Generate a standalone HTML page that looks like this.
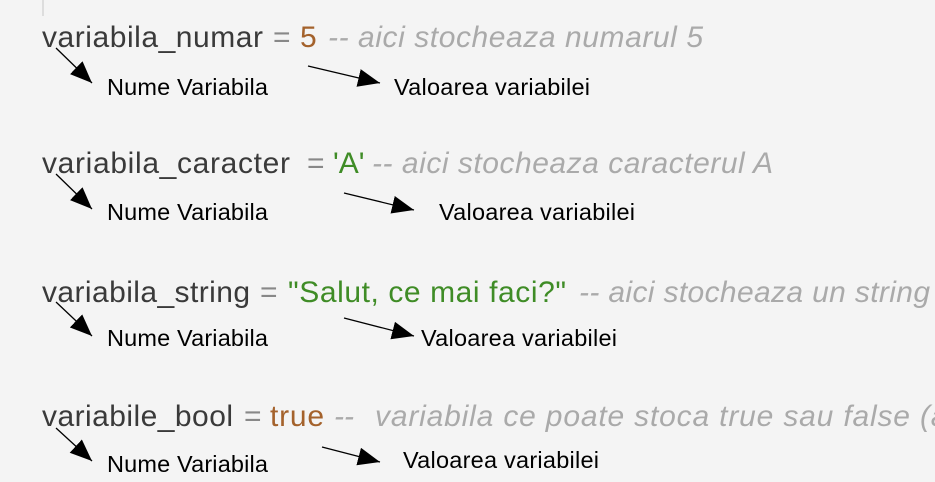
<!DOCTYPE html>
<html><head><meta charset="utf-8"><style>
html,body{margin:0;padding:0;background:#f4f4f4;}
svg{display:block}
.c{font-family:"Liberation Sans",sans-serif;font-size:30px}
.id{fill:#3a3a3a}.eq{fill:#888}.num{fill:#a4622c}.str{fill:#3f8c26}.cm{fill:#aaa;font-style:italic}
.l{font-family:"Liberation Sans",sans-serif;font-size:23.5px;fill:#000}
</style></head><body>
<svg width="935" height="482" viewBox="0 0 935 482" xmlns="http://www.w3.org/2000/svg">
<defs>
<marker id="b" markerWidth="22" markerHeight="18" refX="22" refY="9" orient="auto" markerUnits="userSpaceOnUse" viewBox="0 0 22 18"><path d="M0,0 L22,9 L0,18 z" fill="#000"/></marker></defs>
<line x1="43" y1="0" x2="43" y2="16" stroke="#ddd" stroke-width="2"/>

<text class="c" y="47"><tspan class="id" x="42" textLength="221">variabila_numar</tspan><tspan class="eq" x="273">=</tspan><tspan class="num" x="300">5</tspan><tspan class="cm" x="328" textLength="375">-- aici stocheaza numarul 5</tspan></text>
<text class="c" y="173"><tspan class="id" x="42" textLength="248">variabila_caracter</tspan><tspan class="eq" x="307">=</tspan><tspan class="str" x="333">'A'</tspan><tspan class="cm" x="372" textLength="401">-- aici stocheaza caracterul A</tspan></text>
<text class="c" y="302"><tspan class="id" x="42" textLength="208">variabila_string</tspan><tspan class="eq" x="260">=</tspan><tspan class="str" x="288" textLength="278">"Salut, ce mai faci?"</tspan><tspan class="cm" x="579" textLength="351">-- aici stocheaza un string</tspan></text>
<text class="c" y="426"><tspan class="id" x="42" textLength="191">variabile_bool</tspan><tspan class="eq" x="244">=</tspan><tspan class="num" x="270" textLength="54">true</tspan><tspan class="cm" x="334">--</tspan><tspan class="cm" x="375" textLength="590">variabila ce poate stoca true sau false (ad</tspan></text>

<g stroke="#000" stroke-width="1.3">
<line x1="56" y1="48" x2="92" y2="83" marker-end="url(#b)"/>
<line x1="308" y1="66" x2="380" y2="83" marker-end="url(#b)"/>
<line x1="56" y1="174" x2="92" y2="209" marker-end="url(#b)"/>
<line x1="344" y1="193" x2="414" y2="210" marker-end="url(#b)"/>
<line x1="56" y1="302" x2="92" y2="336" marker-end="url(#b)"/>
<line x1="344" y1="318" x2="414" y2="336" marker-end="url(#b)"/>
<line x1="56" y1="428" x2="92" y2="461" marker-end="url(#b)"/>
<line x1="322" y1="447" x2="380" y2="462" marker-end="url(#b)"/>
</g>

<text class="l" x="107" y="95" textLength="161">Nume Variabila</text>
<text class="l" x="394" y="95" textLength="196">Valoarea variabilei</text>
<text class="l" x="107" y="220" textLength="161">Nume Variabila</text>
<text class="l" x="439" y="220" textLength="196">Valoarea variabilei</text>
<text class="l" x="107" y="346" textLength="161">Nume Variabila</text>
<text class="l" x="421" y="346" textLength="196">Valoarea variabilei</text>
<text class="l" x="107" y="472" textLength="161">Nume Variabila</text>
<text class="l" x="403" y="468" textLength="196">Valoarea variabilei</text>
</svg>
</body></html>
